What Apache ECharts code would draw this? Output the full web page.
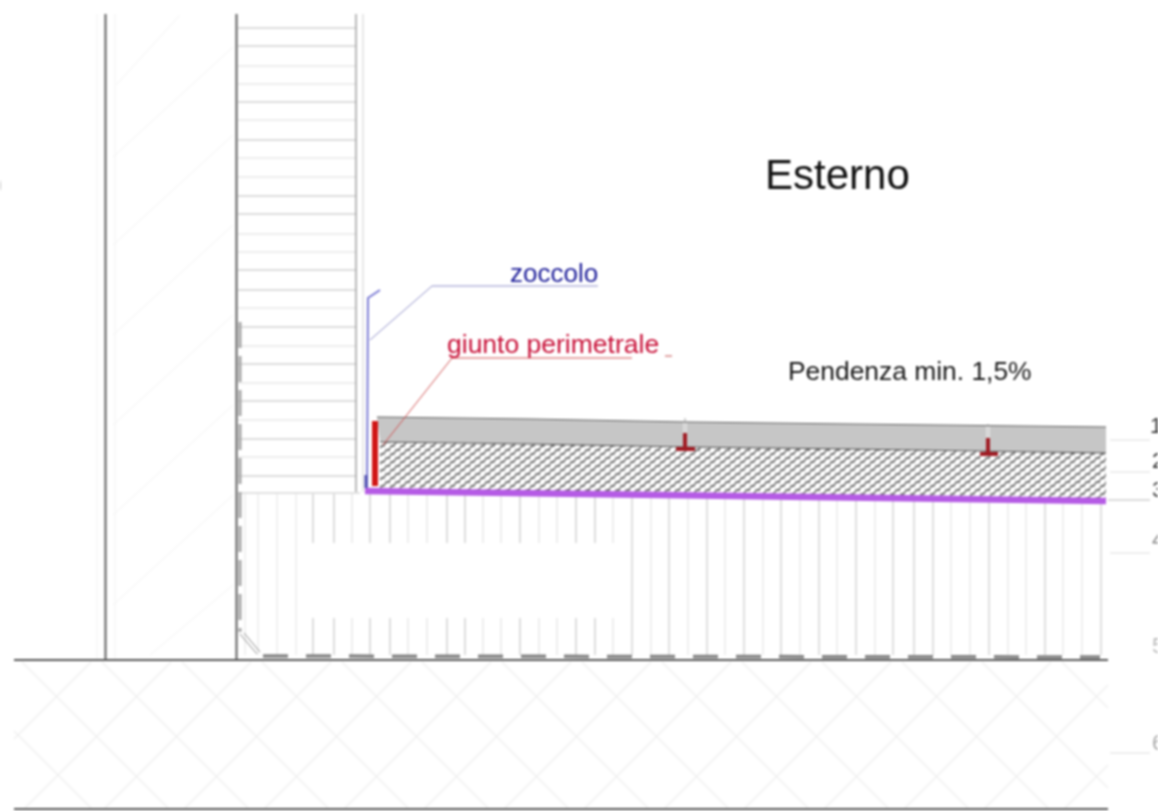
<!DOCTYPE html>
<html><head><meta charset="utf-8">
<style>html,body{margin:0;padding:0;background:#fff;overflow:hidden}#c{width:1158px;height:811px;filter:blur(0.8px)}</style>
<script src="https://cdn.jsdelivr.net/npm/echarts@6/dist/echarts.min.js"></script>
</head><body><div id="c"></div>
<script>
// Drawing units: one unit per reference pixel.
const mainWalls = [[105.5,14,105.5,660],[236.5,14,236.5,660]];
const groundLines = [[14,660,1108,660],[14,809,1108,809]];
const innerFace = [[356,14,356,492]];
const outerFace = [[363,14,363,492]];
const wallGhosts = [[97,14,97,660],[115,14,115,660]];
const blockStrong = [28,46,102,140,196,214,270,290,327,364,401,439,476];
const blockFaint = [66,84,120,158,177,234,252,308,346,383,420,457];
const baseLine = [[238,493,360,493]];
const studsFullFaint = [245,258,277,296];
const studsBrokenStrong = [313,334,370,390,447,465,520,576,595];
const studsBrokenFaint = [352,408,427,483,501,539,557,613];
const studsRightStrong = [632,669,707,744,781,819,856,893,914,933,989,1045,1101];
const studsRightFaint = [651,688,725,763,800,837,875,951,970,1008,1026,1063,1082];
const groundDown = [[14,731,91,808],[22,662,168,808],[102,662,248,808],[182,662,328,808],[262,662,408,808],[342,662,488,808],[422,662,568,808],[502,662,648,808],[582,662,728,808],[662,662,808,808],[742,662,888,808],[822,662,968,808],[902,662,1048,808],[982,662,1108,788],[1062,662,1108,708]];
const groundUp = [[14,739,91,662],[25,808,171,662],[105,808,251,662],[185,808,331,662],[265,808,411,662],[345,808,491,662],[425,808,571,662],[505,808,651,662],[585,808,731,662],[665,808,811,662],[745,808,891,662],[825,808,971,662],[905,808,1051,662],[985,808,1108,685],[1065,808,1108,765]];
const wallDiagonals = [[116,85,180,15],[113,157,233,47],[113,245,233,135],[113,335,233,225],[113,425,233,315],[113,515,233,405],[113,605,233,495],[150,655,233,585]];
const slab = [[377,417],[530,419],[686,422],[850,424],[1106,427],[1106,453],[850,449],[686,447],[530,444],[380,442]];
const screed = [[380,442],[530,444],[686,447],[850,449],[1106,453],[1106,499],[380,489]];
const membrane = [[365,491],[1106,501]];
const redJoint = [[375,421,375,486]];
const zoccoloProfile = [[380,290],[368,298],[367,488]];
const zoccoloFoot = [[366,475,366,488]];
const zoccoloLeader = [[370,340],[432,286],[598,286]];
const giuntoLeader = [[383,445],[452,358],[632,358]];
const giuntoDash = [[665,356,672,356]];
const jointGaps = [[685,418,685,436],[988,424,988,440]];
const supportStems = [[685,433,685,448],[988,438,988,453]];
const supportFeet = [[676,449,695,449],[980,454,998,454]];
const wetDashH = [[263,656,1100,657]];
const wetDashV = [[240,322,240,632]];
const wetCorner = [[240,634,257,654],[244,633,260,652]];
const refTicks = [[1110,440,1150,440],[1110,472,1150,472],[1110,553,1150,553],[1110,753,1150,753]];
const refTickMain = [[1108,500,1150,500]];
const labels = ['Esterno','zoccolo','giunto perimetrale','Pendenza min. 1,5%'];
const labelAt = [[765,198],[510,288],[447,359],[788,386]];
const refNums = ['1','2','3','4','5','6'];
const refAt = [[1150,438],[1152,473],[1152,502],[1152,552],[1152,658],[1152,755]];
const clippedMark = [')'];
const clippedAt = [[-5,196]];

const studs = (xs, y1, y2) => xs.map(x => [x, y1, x, y2]);
const blocks = ys => ys.map(y => [238, y, 356, y]);

function seg(name, rows, color, width, dash, z) {
  return { type:'custom', name, coordinateSystem:'cartesian2d', silent:true, z:z||2,
    encode:{x:[0,2],y:[1,3]}, data:rows,
    renderItem(p, api){
      const a = api.coord([api.value(0),api.value(1)]), b = api.coord([api.value(2),api.value(3)]);
      return {type:'line', shape:{x1:a[0],y1:a[1],x2:b[0],y2:b[1]},
        style:{stroke:color,lineWidth:width,lineDash:dash||null,fill:null}};
    }};
}
function path(name, pts, color, width, z) {
  return { type:'line', name, data:pts, symbol:'none', silent:true, z:z||3,
    lineStyle:{color,width,cap:'butt',join:'miter'}, animation:false };
}
function poly(name, pts, fill, z) {
  return { type:'custom', name, coordinateSystem:'cartesian2d', silent:true, z:z||2,
    encode:{x:0,y:1}, data:pts,
    renderItem(p, api){
      if (p.dataIndex !== 0) return null;
      return {type:'polygon', shape:{points:pts.map(q=>api.coord(q))}, style:{fill}};
    }};
}
function text(name, strs, at, size, color, z) {
  return { type:'custom', name, coordinateSystem:'cartesian2d', silent:true, z:z||6,
    encode:{x:0,y:1}, data:at,
    renderItem(p, api){
      const a = api.coord([api.value(0),api.value(1)]);
      const s = Array.isArray(size)?size[p.dataIndex]:size, c = Array.isArray(color)?color[p.dataIndex]:color;
      return {type:'text', x:a[0], y:a[1], style:{text:strs[p.dataIndex], fill:c,
        font:s+'px "Liberation Sans", Arial, sans-serif', textAlign:'left', textVerticalAlign:'bottom'}};
    }};
}

function hatch(){
  const cv = document.createElement('canvas'); cv.width = 10; cv.height = 8;
  const g = cv.getContext('2d');
  g.fillStyle = '#707070'; g.fillRect(0,0,10,8);
  g.fillStyle = '#fff';
  [[2.5,2],[7.5,6],[-2.5,6],[12.5,6],[2.5,10],[7.5,-2]].forEach(c=>{
    g.beginPath(); g.ellipse(c[0],c[1],3.5,2.5,-Math.PI/4,0,Math.PI*2); g.fill();
  });
  return {image:cv, repeat:'repeat'};
}

const chart = echarts.init(document.getElementById('c'), null, {renderer:'canvas'});
chart.setOption({
  animation:false, backgroundColor:'#fff',
  grid:{left:0,right:0,top:0,bottom:0},
  xAxis:{type:'value',min:0,max:1158,show:false},
  yAxis:{type:'value',min:0,max:811,inverse:true,show:false},
  series:[
    seg('wallDiagonals',wallDiagonals,'#f8f8f8',1.2,null,1),
    seg('groundDown',groundDown,'#efefef',1.2,null,1),
    seg('groundUp',groundUp,'#efefef',1.2,null,1),
    seg('wallGhosts',wallGhosts,'#f3f3f3',1,null,1),
    seg('blockFaint',blocks(blockFaint),'#dcdcdc',1,null,1),
    seg('blockStrong',blocks(blockStrong),'#bcbcbc',1,null,1),
    seg('baseLine',baseLine,'#c4c4c4',1,null,1),
    seg('studsFull',studs(studsFullFaint,494,655),'#e4e4e4',1,null,1),
    seg('studsTopS',studs(studsBrokenStrong,494,543),'#bbbbbb',1,null,1),
    seg('studsTopF',studs(studsBrokenFaint,494,543),'#dddddd',1,null,1),
    seg('studsBotS',studs(studsBrokenStrong,618,655),'#bbbbbb',1,null,1),
    seg('studsBotF',studs(studsBrokenFaint,618,655),'#dddddd',1,null,1),
    seg('studsRightS',studs(studsRightStrong,494,655),'#c0c0c0',1,null,1),
    seg('studsRightF',studs(studsRightFaint,494,655),'#e0e0e0',1,null,1),
    seg('refTicks',refTicks,'#dedede',1,null,1),
    seg('refTickMain',refTickMain,'#b8b8b8',1,null,1),
    seg('outerFace',outerFace,'#cfcfcf',1,null,2),
    seg('innerFace',innerFace,'#9a9a9a',1.4,null,2),
    poly('screed',screed,hatch(),3),
    poly('slab',slab,'#c6c6c6',4),
    path('slabTop',slab.slice(0,5),'#5e5e5e',1,5),
    path('slabBottom',slab.slice(5).reverse(),'#505050',1,5),
    seg('jointGaps',jointGaps,'#fff',3,null,5),
    seg('jointGapsLine',jointGaps,'#a8a8a8',1,null,5),
    seg('supportStems',supportStems,'#a01c24',4,null,6),
    seg('supportFeet',supportFeet,'#a01c24',4,null,6),
    path('membrane',membrane,'#b55be5',6.5,6),
    seg('redJoint',redJoint,'#d01616',6,null,7),
    path('zoccoloProfile',zoccoloProfile,'#7c7cd4',2,6),
    seg('zoccoloFoot',zoccoloFoot,'#4f4fb0',3,null,7),
    path('zoccoloLeader',zoccoloLeader,'#8f8fc8',1,5),
    path('giuntoLeader',giuntoLeader,'#d05050',1,5),
    seg('giuntoDash',giuntoDash,'#c04848',1,null,5),
    seg('wetDashV',wetDashV,'#a8a8a8',3,[26,8],4),
    seg('wetDashH',wetDashH,'#858585',3.5,[25,18],4),
    seg('wetCorner',wetCorner,'#8a8a8a',1,null,4),
    seg('mainWalls',mainWalls,'#5f5f5f',2,null,5),
    seg('groundLines',groundLines,'#555',2,null,5),
    text('labels',labels,labelAt,[42,26,26.5,26.4],['#111','#20209a','#c81038','#181818']),
    text('refNums',refNums,refAt,22,['#333','#333','#444','#888','#bbb','#aaa']),
    text('clipped',clippedMark,clippedAt,22,'#bbb')
  ]
});
</script></body></html>
